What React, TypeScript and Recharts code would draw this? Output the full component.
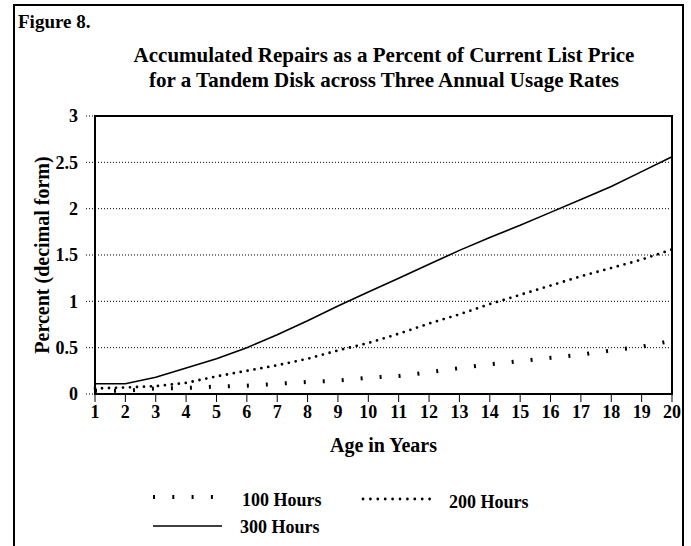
import React from 'react';
import { LineChart, Line, XAxis, YAxis, CartesianGrid, ReferenceArea } from 'recharts';

const ages = [1, 2, 3, 4, 5, 6, 7, 8, 9, 10, 11, 12, 13, 14, 15, 16, 17, 18, 19, 20];
const hours100 = [0.035, 0.035, 0.06, 0.065, 0.08, 0.09, 0.11, 0.13, 0.145, 0.175, 0.195, 0.235, 0.28, 0.32, 0.355, 0.39, 0.425, 0.47, 0.51, 0.575];
const hours200 = [0.06, 0.07, 0.085, 0.12, 0.19, 0.25, 0.31, 0.38, 0.47, 0.55, 0.65, 0.76, 0.86, 0.97, 1.07, 1.17, 1.27, 1.36, 1.45, 1.56];
const hours300 = [0.11, 0.11, 0.18, 0.28, 0.38, 0.5, 0.64, 0.79, 0.95, 1.1, 1.25, 1.4, 1.55, 1.69, 1.82, 1.96, 2.1, 2.24, 2.4, 2.56];
const yTicks = [0, 0.5, 1, 1.5, 2, 2.5, 3];
const seriesNames = ['100 Hours', '200 Hours', '300 Hours'];
const figureLabel = 'Figure 8.';
const titleLines = ['Accumulated Repairs as a Percent of Current List Price', 'for a Tandem Disk across Three Annual Usage Rates'];
const xTitle = 'Age in Years';
const yTitle = 'Percent (decimal form)';

const data = ages.map((a, i) => ({ age: a, h100: hours100[i], h200: hours200[i], h300: hours300[i] }));

const FONT = "'Liberation Serif', 'Times New Roman', Times, serif";
const tickStyle = { fill: '#000', fontSize: 18, fontWeight: 'bold' as const, fontFamily: FONT };

export default function App() {
  return (
    <div style={{ position: 'absolute', left: 0, top: 0, width: 691, height: 546, overflow: 'hidden', background: '#fff' }}>
      <div style={{ position: 'absolute', left: 13, top: 4, width: 671, height: 600, boxSizing: 'border-box', borderLeft: '2px solid #000', borderTop: '2px solid #000', borderRight: '2px solid #000' }} />
      <div style={{ position: 'absolute', left: 0, top: 0 }}>
        <LineChart width={691} height={546} data={data} margin={{ top: 116, right: 19, bottom: 92, left: 0 }}>
          <CartesianGrid horizontal vertical={false} stroke="#000" strokeDasharray="1 2" />
          <XAxis
            dataKey="age"
            type="number"
            domain={[1, 20]}
            ticks={ages}
            interval={0}
            height={60}
            tickSize={8}
            tickMargin={3}
            tickLine={{ stroke: '#000' }}
            axisLine={{ stroke: '#000', strokeWidth: 2 }}
            tick={tickStyle}
            label={{ value: xTitle, position: 'insideBottom', offset: 2, style: { fill: '#000', fontSize: 20, fontWeight: 'bold', fontFamily: FONT } }}
          />
          <YAxis
            type="number"
            domain={[0, 3]}
            ticks={yTicks}
            interval={0}
            width={95}
            tickSize={9}
            tickMargin={8}
            tickLine={{ stroke: '#000', strokeDasharray: '1 2' }}
            axisLine={{ stroke: '#000', strokeWidth: 2 }}
            tick={tickStyle}
            label={{ value: yTitle, angle: -90, position: 'insideLeft', offset: 42, style: { textAnchor: 'middle', fill: '#000', fontSize: 20, fontWeight: 'bold', fontFamily: FONT } }}
          />
          <ReferenceArea x1={1} x2={20} y1={0} y2={3} fill="none" stroke="#000" strokeWidth={2} />
          <Line dataKey="h100" name={seriesNames[0]} stroke="#000" strokeWidth={4} strokeDasharray="2 17" dot={false} activeDot={false} isAnimationActive={false} />
          <Line dataKey="h200" name={seriesNames[1]} stroke="#000" strokeWidth={2.8} strokeDasharray="0 7" strokeLinecap="round" dot={false} activeDot={false} isAnimationActive={false} />
          <Line dataKey="h300" name={seriesNames[2]} stroke="#000" strokeWidth={1.6} dot={false} activeDot={false} isAnimationActive={false} />
        </LineChart>
      </div>
      <svg width={691} height={546} style={{ position: 'absolute', left: 0, top: 0, pointerEvents: 'none' }}>
        <g fontFamily={FONT} fontWeight="bold" fill="#000">
          <text x={18} y={28} fontSize={19}>{figureLabel}</text>
          <text x={384} y={62} fontSize={21} textAnchor="middle">{titleLines[0]}</text>
          <text x={384} y={87} fontSize={21} textAnchor="middle">{titleLines[1]}</text>
          <line x1={153} y1={497} x2={214} y2={497} stroke="#000" strokeWidth={4} strokeDasharray="2 17.3" />
          <text x={242} y={506} fontSize={18}>{seriesNames[0]}</text>
          <line x1={363} y1={499} x2={430} y2={499} stroke="#000" strokeWidth={2.8} strokeDasharray="0 7.4" strokeLinecap="round" />
          <text x={449} y={508} fontSize={18}>{seriesNames[1]}</text>
          <line x1={153} y1={526} x2={222} y2={526} stroke="#000" strokeWidth={1.6} />
          <text x={240} y={533} fontSize={18}>{seriesNames[2]}</text>
        </g>
      </svg>
    </div>
  );
}
